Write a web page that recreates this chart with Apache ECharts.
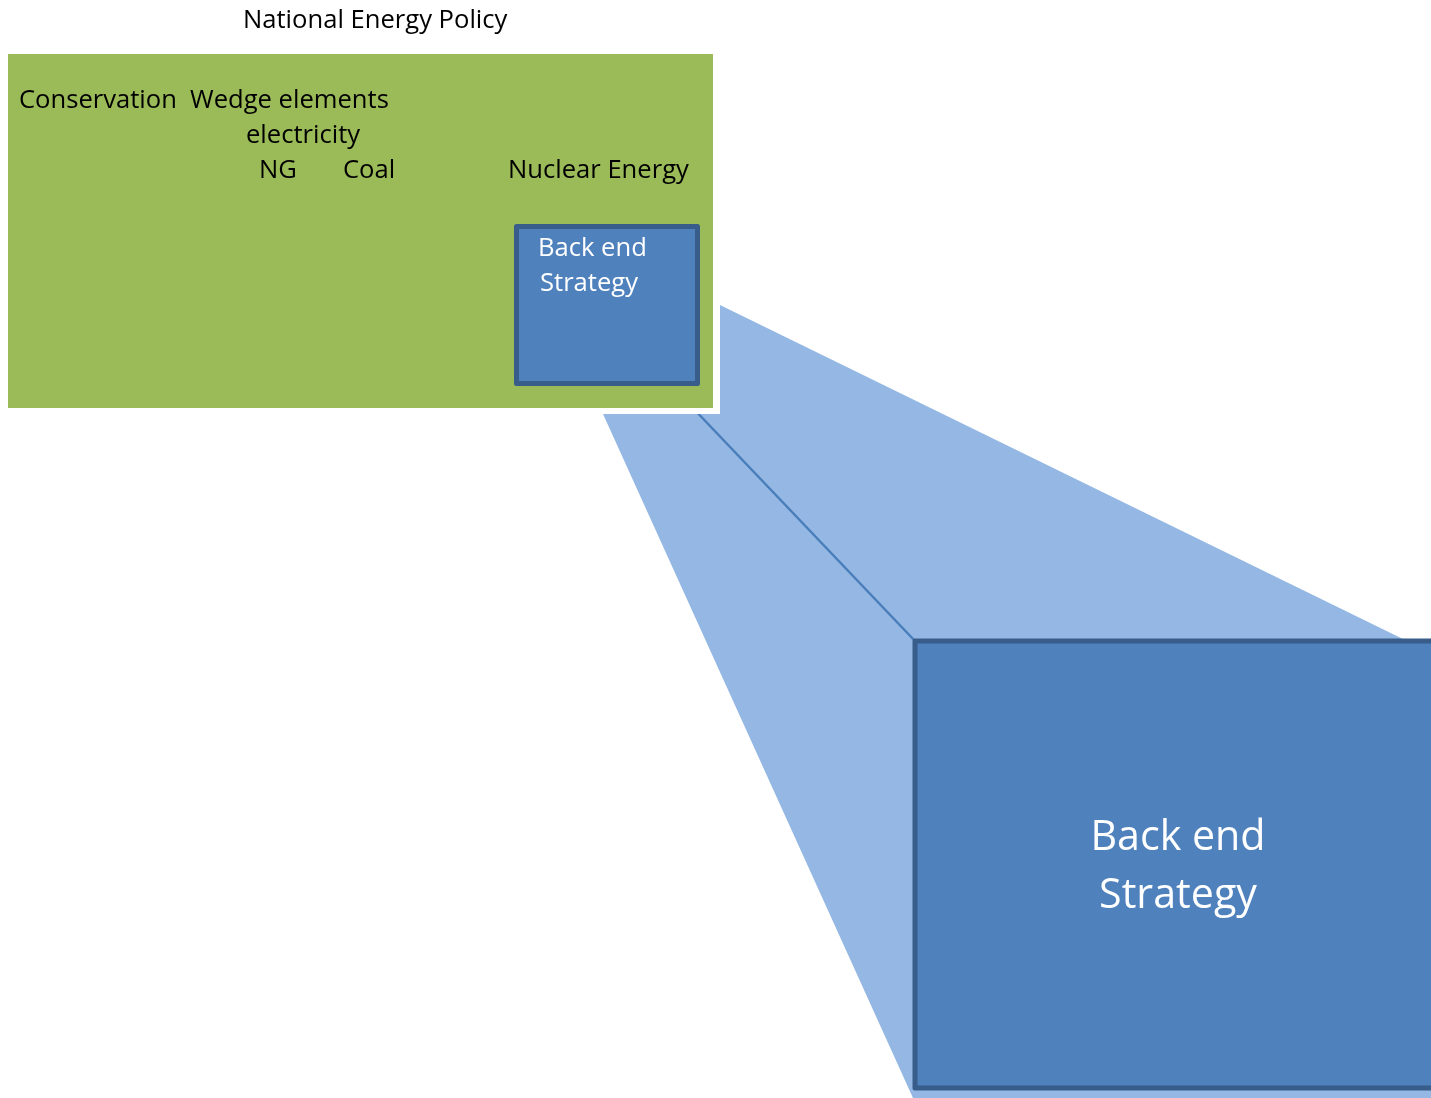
<!DOCTYPE html>
<html>
<head>
<meta charset="utf-8">
<script src="https://cdn.jsdelivr.net/npm/echarts@6/dist/echarts.min.js"></script>
<style>
html,body{margin:0;padding:0;background:#fff;}
#chart{width:1431px;height:1098px;}
</style>
</head>
<body>
<div id="chart"></div>
<script>
// ---- diagram data (coordinates in diagram units) ----
const shapeNames = ['Zoom wedge', 'National Energy Policy box', 'Back end Strategy (small)', 'Back end Strategy (large)'];
const shapeXs = [
  [603, 720, 720, 1405, 1440, 1440, 913],
  [5, 716, 716, 5],
  [516.5, 697.5, 697.5, 516.5],
  [915, 1445, 1445, 915]
];
const shapeYs = [
  [414, 414, 305, 640, 640, 1098, 1098],
  [51, 51, 411, 411],
  [226.5, 226.5, 383.5, 383.5],
  [641, 641, 1088, 1088]
];
const connectorXs = [690, 915];
const connectorYs = [405, 641];

const labelTexts = ['National Energy Policy', 'Conservation', 'Wedge elements', 'electricity', 'NG', 'Coal', 'Nuclear Energy', 'Back end', 'Strategy', 'Back end', 'Strategy'];
const labelXs = [243, 19, 190, 246, 259, 343, 508, 538, 540, 1178, 1178];
const labelYs = [21, 101, 101, 136, 171, 171, 171, 249, 284, 838, 896];
const labelGroups = ['title', 'item', 'item', 'item', 'item', 'item', 'item', 'small', 'small', 'big', 'big'];

// ---- styles ----
const FONT = '"Open Sans", "Noto Sans", sans-serif';
const shapeStyles = [
  { fill: '#94B8E3', stroke: null, lineWidth: 0 },
  { fill: '#9BBB59', stroke: '#ffffff', lineWidth: 6 },
  { fill: '#4F81BD', stroke: '#385D8A', lineWidth: 5 },
  { fill: '#4F81BD', stroke: '#385D8A', lineWidth: 5 }
];
const groupStyles = {
  title: { fill: '#000000', fontSize: 25.6, align: 'left' },
  item:  { fill: '#000000', fontSize: 25.6, align: 'left' },
  small: { fill: '#ffffff', fontSize: 25.6, align: 'left' },
  big:   { fill: '#ffffff', fontSize: 41.2, align: 'center' }
};

const chart = echarts.init(document.getElementById('chart'), null, { renderer: 'canvas' });

const shapeData = shapeNames.map((n, i) => ({ name: n, value: [i] }));
const labelData = labelTexts.map((t, i) => ({ name: t, value: [labelXs[i], labelYs[i], i] }));

const option = {
  animation: false,
  backgroundColor: '#ffffff',
  grid: { left: 0, right: 0, top: 0, bottom: 0 },
  xAxis: { type: 'value', min: 0, max: 1431, show: false },
  yAxis: { type: 'value', min: 0, max: 1098, inverse: true, show: false },
  series: [
    {
      type: 'custom',
      name: 'shapes-back',
      z: 1,
      data: shapeData.slice(0, 1),
      renderItem: function (params, api) {
        const i = api.value(0);
        const pts = shapeXs[i].map((x, k) => api.coord([x, shapeYs[i][k]]));
        const s = shapeStyles[i];
        return { type: 'polygon', shape: { points: pts }, style: { fill: s.fill, stroke: s.stroke, lineWidth: s.lineWidth } };
      }
    },
    {
      type: 'line',
      name: 'connector',
      z: 2,
      data: connectorXs.map((x, k) => [x, connectorYs[k]]),
      symbol: 'none',
      lineStyle: { color: '#4A7EBB', width: 2.5 }
    },
    {
      type: 'custom',
      name: 'shapes-front',
      z: 3,
      data: shapeData.slice(1),
      renderItem: function (params, api) {
        const i = api.value(0);
        const pts = shapeXs[i].map((x, k) => api.coord([x, shapeYs[i][k]]));
        const s = shapeStyles[i];
        return { type: 'polygon', shape: { points: pts }, style: { fill: s.fill, stroke: s.stroke, lineWidth: s.lineWidth, lineJoin: 'round' } };
      }
    },
    {
      type: 'custom',
      name: 'labels',
      z: 4,
      data: labelData,
      renderItem: function (params, api) {
        const i = api.value(2);
        const p = api.coord([api.value(0), api.value(1)]);
        const g = groupStyles[labelGroups[i]];
        return {
          type: 'text',
          x: p[0], y: p[1],
          style: {
            text: labelTexts[i],
            fill: g.fill,
            fontSize: g.fontSize,
            fontFamily: FONT,
            align: g.align,
            verticalAlign: 'middle'
          }
        };
      }
    }
  ]
};
chart.setOption(option);
</script>
</body>
</html>
